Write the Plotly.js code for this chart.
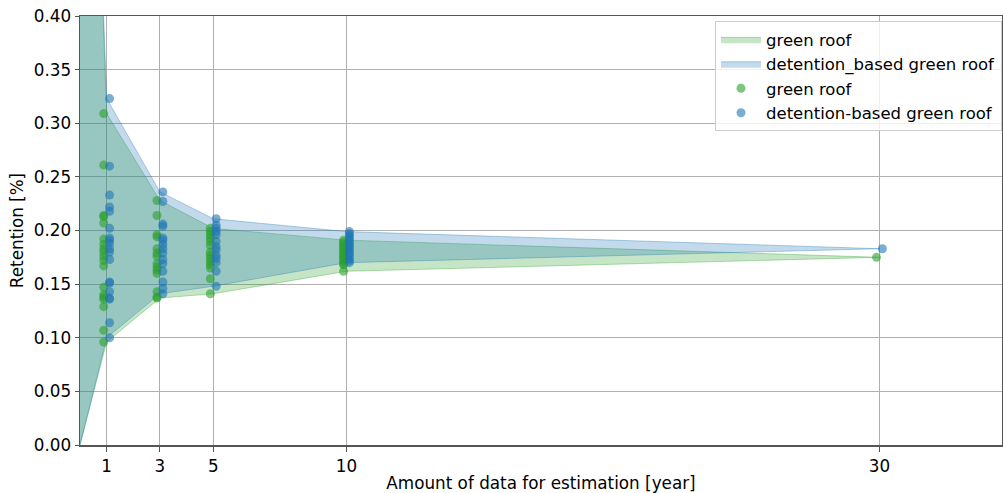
<!DOCTYPE html>
<html>
<head>
<meta charset="utf-8">
<script src="https://cdn.plot.ly/plotly-3.0.1.min.js"></script>
<style>html,body{margin:0;padding:0;background:#fff;}#chart{width:1003px;height:493px;}</style>
</head>
<body>
<div id="chart"></div>
<script>
// Band envelopes (min / max retention per amount of data)
const years = [0, 1, 3, 5, 10, 30];
const greenMax = [1.0, 0.309, 0.228, 0.202, 0.191, 0.175];
const greenMin = [0.0, 0.096, 0.137, 0.141, 0.162, 0.175];
const blueMax  = [1.0, 0.323, 0.236, 0.211, 0.199, 0.183];
const blueMin  = [0.0, 0.100, 0.141, 0.148, 0.170, 0.183];

// Individual estimates per amount of data
const pointYears = [1, 3, 5, 10, 30];
const green1 = [0.309, 0.261, 0.214, 0.213, 0.207, 0.192, 0.187, 0.183, 0.180, 0.176, 0.172, 0.167, 0.147, 0.140, 0.138, 0.136, 0.129, 0.107, 0.096];
const blue1  = [0.323, 0.260, 0.233, 0.222, 0.218, 0.202, 0.193, 0.191, 0.188, 0.183, 0.180, 0.173, 0.152, 0.151, 0.143, 0.137, 0.136, 0.114, 0.100];
const green3 = [0.228, 0.214, 0.196, 0.194, 0.183, 0.179, 0.176, 0.169, 0.166, 0.163, 0.160, 0.143, 0.138, 0.137];
const blue3  = [0.236, 0.227, 0.206, 0.204, 0.193, 0.191, 0.187, 0.183, 0.179, 0.173, 0.169, 0.162, 0.152, 0.146, 0.141];
const green5 = [0.202, 0.199, 0.196, 0.193, 0.190, 0.186, 0.180, 0.177, 0.174, 0.171, 0.168, 0.165, 0.155, 0.141];
const blue5  = [0.211, 0.205, 0.202, 0.199, 0.196, 0.190, 0.185, 0.182, 0.177, 0.174, 0.170, 0.162, 0.148];
const green10 = [0.191, 0.189, 0.187, 0.185, 0.183, 0.181, 0.179, 0.177, 0.175, 0.173, 0.171, 0.169, 0.168, 0.162];
const blue10  = [0.199, 0.197, 0.195, 0.193, 0.191, 0.189, 0.187, 0.185, 0.183, 0.181, 0.179, 0.177, 0.174, 0.172, 0.170];
const green30 = [0.175];
const blue30  = [0.183];

const xTicks = [1, 3, 5, 10, 30];
const yTicks = [0, 0.05, 0.10, 0.15, 0.20, 0.25, 0.30, 0.35, 0.40];

const greenGroups = [green1, green3, green5, green10, green30];
const blueGroups = [blue1, blue3, blue5, blue10, blue30];

function band(maxArr, minArr) {
  const x = years.concat(years.slice().reverse());
  const y = maxArr.concat(minArr.slice().reverse());
  return {x, y};
}
function pts(groups, shift) {
  const x = [], y = [];
  groups.forEach((g, i) => g.forEach(v => { x.push(pointYears[i] + shift); y.push(v); }));
  return {x, y};
}

const gb = band(greenMax, greenMin);
const bb = band(blueMax, blueMin);
const gp = pts(greenGroups, -0.11);
const bp = pts(blueGroups, 0.11);

const traces = [
  {x: gb.x, y: gb.y, type: 'scatter', mode: 'lines', fill: 'toself', name: 'green roof',
   fillcolor: 'rgba(44,160,44,0.27)', line: {color: 'rgba(44,160,44,0.35)', width: 1}, hoverinfo: 'skip'},
  {x: bb.x, y: bb.y, type: 'scatter', mode: 'lines', fill: 'toself', name: 'detention_based green roof',
   fillcolor: 'rgba(31,119,180,0.27)', line: {color: 'rgba(31,119,180,0.35)', width: 1}, hoverinfo: 'skip'},
  {x: gp.x, y: gp.y, type: 'scatter', mode: 'markers', name: 'green roof',
   marker: {color: 'rgba(44,160,44,0.6)', size: 9, line: {width: 0}}},
  {x: bp.x, y: bp.y, type: 'scatter', mode: 'markers', name: 'detention-based green roof',
   marker: {color: 'rgba(31,119,180,0.6)', size: 9, line: {width: 0}}}
];

const layout = {
  width: 1003, height: 493,
  margin: {l: 80, r: 1, t: 16, b: 48, pad: 0},
  paper_bgcolor: '#fff', plot_bgcolor: '#fff',
  font: {family: 'DejaVu Sans, sans-serif', size: 16.8, color: '#000'},
  showlegend: true,
  legend: {x: 1, xanchor: 'right', y: 0.988, yanchor: 'top', bgcolor: 'rgba(255,255,255,0.8)',
           bordercolor: '#cccccc', borderwidth: 1, font: {size: 16.5}, tracegroupgap: 0, itemwidth: 40},
  xaxis: {range: [0, 34.6], tickvals: xTicks, ticktext: xTicks.map(String), showgrid: true,
          gridcolor: '#b0b0b0', gridwidth: 1, zeroline: false, showline: true, linecolor: '#555', linewidth: 1.5,
          mirror: true, ticks: 'outside', ticklen: 5, tickcolor: '#555',
          title: {text: 'Amount of data for estimation [year]', font: {size: 16.8}, standoff: 6}},
  yaxis: {range: [0, 0.40], tickvals: yTicks, tickformat: '.2f', showgrid: true,
          gridcolor: '#b0b0b0', gridwidth: 1, zeroline: false, showline: true, linecolor: '#555', linewidth: 1.5,
          mirror: true, ticks: 'outside', ticklen: 4, tickcolor: '#555',
          title: {text: 'Retention [%]', font: {size: 16.8}, standoff: 6}}
};

Plotly.newPlot('chart', traces, layout, {displayModeBar: false, staticPlot: true});
</script>
</body>
</html>
